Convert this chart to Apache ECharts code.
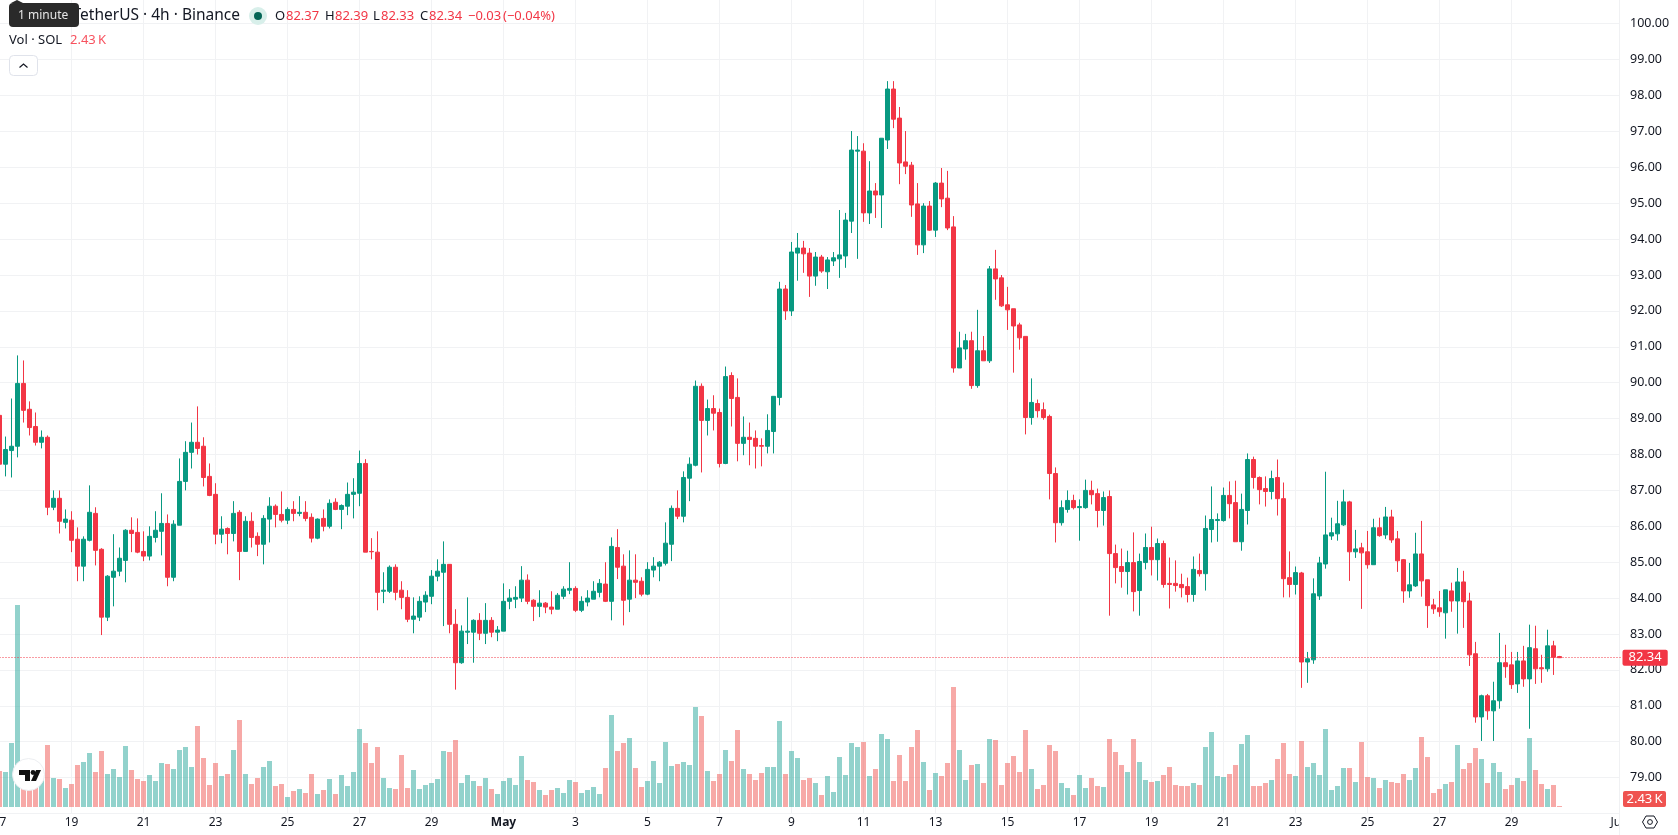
<!DOCTYPE html>
<html>
<head>
<meta charset="utf-8">
<title>SOL / TetherUS 4h</title>
<style>html,body{margin:0;padding:0;background:#fff;overflow:hidden}#chart{width:1678px;height:835px}</style>
<script src="https://cdn.jsdelivr.net/npm/echarts@6/dist/echarts.min.js"></script>
</head>
<body>
<div id="chart"></div>
<script>
// 4h candles, oldest first; the first one opens on 17 Apr.
const opens = [
89.09,87.73,88.11,88.23,89.98,89.26,88.78,88.34,88.48,86.53,
86.78,86.11,86.17,85.64,84.89,85.61,86.36,85.36,83.47,84.58,
84.75,85.05,85.89,85.83,85.30,85.17,85.69,85.86,86.08,84.58,
86.03,87.25,88.06,88.34,88.23,87.39,86.89,85.78,85.94,85.80,
86.39,85.30,86.14,85.72,85.50,86.20,86.56,86.33,86.17,86.47,
86.36,86.39,86.25,85.67,86.22,86.00,86.67,86.47,86.56,86.89,
86.92,87.75,85.30,85.28,84.19,84.19,84.86,84.22,84.02,83.41,
83.47,83.89,84.05,84.61,84.72,84.94,83.27,82.20,83.05,83.05,
83.38,83.02,83.38,83.05,83.08,83.91,83.97,84.00,84.50,83.94,
83.77,83.86,83.75,83.69,84.05,84.22,84.27,83.66,83.89,83.97,
84.16,84.39,83.91,85.41,84.89,83.97,84.50,84.47,84.11,84.78,
84.89,84.97,85.50,86.50,86.28,87.34,87.70,89.90,88.95,89.28,
89.17,87.75,90.20,89.59,88.31,88.48,88.45,88.25,88.23,88.64,
89.59,92.61,92.00,93.61,93.75,93.61,92.97,93.50,93.09,93.39,
93.45,93.53,94.50,96.45,96.45,94.73,95.34,95.23,96.76,98.18,
97.37,96.15,96.06,94.98,93.84,94.92,94.25,95.56,95.14,94.34,
90.41,90.94,91.17,89.92,90.89,90.61,93.17,92.92,92.17,92.06,
91.61,91.29,89.03,89.42,89.25,89.06,87.47,86.10,86.47,86.72,
86.52,86.52,87.00,86.91,86.44,86.83,85.24,84.88,84.74,84.99,
84.21,84.99,85.41,85.07,85.52,84.41,84.41,84.38,84.32,84.10,
84.77,84.68,85.91,86.16,86.16,86.86,86.66,85.57,86.44,87.86,
87.36,87.05,86.97,87.36,86.77,84.57,84.38,84.70,82.22,82.28,
84.06,84.95,85.73,85.79,86.04,86.68,85.29,85.40,85.29,84.93,
85.96,85.76,86.26,85.65,85.07,84.20,84.34,85.23,84.51,83.81,
83.73,83.59,84.20,83.92,84.45,83.92,82.45,80.69,81.28,80.86,
81.14,82.20,82.14,81.61,82.25,81.75,82.59,82.06,82.03,82.67,
82.37];
const closes = [
87.73,88.14,88.23,89.98,89.23,88.75,88.34,88.48,86.53,86.78,
86.14,86.20,85.61,84.89,85.64,86.39,85.33,83.47,84.61,84.75,
85.11,85.89,85.80,85.28,85.17,85.72,85.89,86.08,84.58,86.06,
87.25,88.06,88.34,88.17,87.36,86.86,85.78,85.92,85.80,86.36,
85.30,86.14,85.69,85.50,86.22,86.56,86.33,86.17,86.47,86.36,
86.39,86.22,85.67,86.20,86.00,86.64,86.47,86.58,86.89,86.95,
87.75,85.28,85.29,84.16,84.22,84.86,84.16,84.02,83.41,83.50,
83.91,84.08,84.61,84.75,84.94,83.27,82.20,83.08,83.08,83.38,
83.02,83.38,83.05,83.11,83.91,84.00,84.02,84.50,83.91,83.77,
83.86,83.75,83.69,84.08,84.25,84.27,83.66,83.91,84.00,84.19,
84.41,83.91,85.44,84.86,83.94,84.50,84.44,84.11,84.80,84.89,
85.00,85.53,86.50,86.28,87.36,87.73,89.90,88.95,89.28,89.15,
87.75,90.17,89.56,88.31,88.48,88.42,88.23,88.23,88.67,89.62,
92.61,92.00,93.64,93.75,93.59,92.97,93.50,93.11,93.42,93.48,
93.56,94.53,96.48,96.48,94.73,95.34,95.23,96.81,98.18,97.34,
96.12,96.03,94.95,93.84,94.92,94.25,95.56,95.12,94.31,90.41,
90.97,91.17,89.92,90.89,90.61,93.17,92.89,92.14,92.03,91.58,
91.25,89.03,89.45,89.22,89.03,87.47,86.10,86.52,86.72,86.52,
86.55,87.00,86.88,86.44,86.80,85.24,84.85,84.74,84.99,84.18,
85.02,85.41,85.07,85.52,84.38,84.38,84.35,84.29,84.10,84.80,
84.68,85.94,86.19,86.19,86.86,86.63,85.57,86.47,87.86,87.36,
87.02,86.97,87.33,86.77,84.54,84.38,84.71,82.22,82.31,84.12,
84.98,85.76,85.82,86.07,86.68,85.29,85.37,85.26,84.93,85.96,
85.74,86.26,85.62,85.04,84.20,84.37,85.23,84.48,83.79,83.70,
83.62,84.23,83.92,84.45,83.90,82.42,80.69,81.28,80.86,81.14,
82.20,82.09,81.59,82.25,81.75,82.62,82.03,82.03,82.67,82.35,
82.34];
const highs = [
89.30,88.50,89.56,90.76,90.62,89.48,89.17,88.67,88.53,87.00,
87.00,86.47,86.42,85.97,85.72,87.14,86.53,85.39,84.64,85.78,
85.41,85.92,86.25,86.22,85.86,86.00,86.42,86.92,86.33,86.17,
87.89,88.37,88.89,89.34,88.48,87.75,87.20,86.28,85.97,86.70,
86.45,86.28,86.39,85.83,86.31,86.81,86.61,86.97,86.53,86.70,
86.84,86.70,86.36,86.22,86.47,86.75,86.78,86.61,87.22,87.34,
88.11,87.87,85.67,85.86,84.72,84.91,84.94,84.47,84.22,84.02,
84.05,84.19,84.78,85.08,85.58,84.94,83.69,83.24,84.02,83.41,
83.58,83.86,83.47,83.22,84.41,84.25,84.33,84.89,84.66,83.97,
84.22,83.89,84.19,84.14,84.33,85.00,84.33,84.05,84.22,84.47,
84.53,85.00,85.69,85.92,85.22,85.33,85.22,84.58,85.00,85.14,
85.03,86.11,86.58,87.00,87.53,87.92,90.06,89.98,89.53,89.65,
89.28,90.45,90.29,90.12,89.06,88.89,88.67,88.45,89.12,89.62,
92.81,92.72,93.92,94.17,93.95,93.75,93.64,93.56,93.50,93.64,
94.81,94.73,97.01,96.87,96.67,96.17,95.56,96.81,98.40,98.40,
97.68,97.01,96.15,95.56,95.00,95.06,95.59,95.98,95.90,94.64,
91.42,91.36,91.42,92.03,91.30,93.25,93.70,93.00,92.67,92.06,
91.67,91.29,90.12,89.53,89.45,89.11,87.64,86.72,87.00,86.88,
86.75,87.30,87.27,87.05,86.97,87.00,85.49,85.38,85.32,85.83,
85.24,85.80,85.99,85.66,85.60,85.13,85.05,84.68,84.57,85.16,
85.24,86.30,87.11,86.36,87.08,87.25,87.27,86.91,88.03,87.94,
87.39,87.39,87.55,87.86,87.22,85.30,84.88,84.73,82.50,84.55,
85.15,87.52,86.24,86.71,87.02,86.71,85.90,85.54,85.87,86.21,
86.24,86.54,86.46,85.87,85.09,84.98,85.82,86.15,84.51,83.98,
84.20,84.23,84.43,84.84,84.76,84.15,82.78,81.31,81.33,81.67,
83.03,82.70,82.50,82.50,82.67,83.26,83.23,82.42,83.12,82.81,
82.39];
const lows = [
87.68,87.39,87.36,87.92,88.89,88.53,88.25,88.17,86.31,86.45,
85.80,85.94,85.28,84.47,84.47,85.58,84.91,82.97,83.36,83.77,
84.61,84.44,85.28,85.25,85.03,85.05,85.55,85.19,84.33,84.47,
86.03,87.00,87.61,88.00,87.11,86.84,85.50,85.53,85.22,85.58,
84.50,85.30,85.41,85.17,84.94,85.55,85.97,86.11,86.06,86.14,
86.28,86.14,85.55,85.64,85.86,85.94,86.45,85.92,86.31,86.22,
86.56,85.28,85.08,83.66,83.86,84.14,83.94,83.69,83.33,83.02,
83.36,83.61,83.83,84.47,83.22,83.02,81.45,82.17,82.72,82.20,
82.83,82.72,82.91,82.80,83.08,83.69,83.72,83.89,83.83,83.36,
83.47,83.58,83.55,83.69,83.97,84.11,83.61,83.61,83.77,83.97,
84.02,83.89,83.38,84.53,83.24,83.61,84.00,84.05,84.08,84.58,
84.47,84.91,85.03,86.20,86.11,86.70,87.67,87.50,88.53,88.67,
87.64,87.73,88.78,87.81,87.98,87.70,87.61,87.67,88.03,88.03,
89.37,91.75,91.86,92.84,93.06,92.39,92.70,93.06,92.61,93.25,
92.92,93.20,94.17,93.45,94.48,94.42,94.59,94.31,96.51,97.09,
95.53,95.81,94.62,93.56,93.61,94.23,94.06,94.89,94.25,90.28,
90.41,90.64,89.83,89.86,90.61,90.55,92.31,92.11,91.47,90.28,
90.92,88.56,88.83,89.03,88.97,86.75,85.55,86.02,86.38,86.47,
85.60,86.49,86.61,85.97,86.02,83.51,84.41,84.29,84.10,83.63,
83.51,84.80,84.63,84.49,84.29,83.71,84.18,84.02,83.88,83.90,
84.60,84.21,85.55,85.57,86.13,86.22,85.57,85.32,86.05,87.05,
86.61,86.55,86.75,86.30,84.02,84.02,84.10,81.50,81.64,82.17,
83.95,84.82,85.62,85.60,86.01,84.48,85.12,83.70,84.82,84.93,
85.71,85.65,85.54,84.73,83.87,84.01,84.31,84.04,83.17,83.56,
83.48,82.87,83.62,83.01,83.17,82.11,80.53,80.02,80.61,80.02,
80.92,81.78,81.47,81.36,81.53,80.36,81.61,81.64,81.95,81.86,
82.33];
// Volume per candle, in thousands of SOL.
const volumes = [
90,87.5,160,505,67.5,75,75,80,155,72.5,
70,47.5,57.5,105,112.5,135,87.5,140,82.5,95,
75,152.5,92.5,70,65,80,65,110,107.5,95,
142.5,150,100,202.5,122.5,55,110,77.5,82.5,142.5,
217.5,82.5,57.5,72.5,100,115,52.5,57.5,25,40,
45,35,82.5,32.5,42.5,70,32.5,80,52.5,87.5,
195,160,110,150,72.5,47.5,45,130,47.5,92.5,
45,55,60,70,140,137.5,167.5,60,80,65,
52.5,72.5,45,32.5,65,72.5,55,127.5,67.5,62.5,
42.5,30,42.5,47.5,35,67.5,62.5,35,42.5,50,
32.5,97.5,230,140,160,172.5,97.5,50,65,115,
60,162.5,102.5,107.5,112.5,105,250,227.5,90,65,
82.5,142.5,115,192.5,95,82.5,67.5,85,100,100,
215,82.5,140,122.5,67.5,72.5,60,30,77.5,37.5,
125,80,160,150,162.5,77.5,95,182.5,170,65,
130,65,150,192.5,112.5,42.5,85,77.5,110,300,
142.5,67.5,105,107.5,60,170,167.5,55,110,127.5,
87.5,192.5,95,45,55,155,140,60,47.5,30,
80,47.5,72.5,52.5,50,170,137.5,105,87.5,170,
112.5,67.5,62.5,65,80,100,55,52.5,52.5,60,
55,150,187.5,77.5,75,82.5,105,157.5,180,52.5,
52.5,60,67.5,120,160,82.5,77.5,165,100,110,
80,195,42.5,52.5,97.5,97.5,62.5,162.5,75,72.5,
47.5,67.5,62.5,60,82.5,67.5,97.5,175,125,35,
45,57.5,62.5,155,95,110,147.5,120,60,110,
87.5,45,55,72.5,65,172.5,92.5,57.5,45,55,
2.43];

// Date labels: one every 12 candles up to the 29th, then the month start.
const tickLabels = ['17','19','21','23','25','27','29','May','3','5','7','9','11','13','15','17','19','21','23','25','27','29'];
const monthStart = {label: 'Jun', index: 270};
const slotCount = 271;

const lastPrice = 82.34;
const lastVolume = '2.43\u202fK';
const quote = [
  {key: 'O', val: '82.37', kx: 275, vx: 286},
  {key: 'H', val: '82.39', kx: 325, vx: 335},
  {key: 'L', val: '82.33', kx: 373, vx: 381},
  {key: 'C', val: '82.34', kx: 420, vx: 429}
];
const change = '\u22120.03';
const changePct = '(\u22120.04%)';

const UP = '#089981', DOWN = '#F23645';
const VOL_UP = 'rgba(38,166,154,0.5)', VOL_DOWN = 'rgba(239,83,80,0.5)';
const TEXT = '#131722', GRID = '#f1f2f4', FONT = '"Noto Sans", sans-serif';

const categories = new Array(slotCount).fill('');
tickLabels.forEach((t, k) => { categories[k * 12] = t; });
categories[monthStart.index] = monthStart.label;
const isTick = (i, v) => v !== '';

const candles = opens.map((o, i) => [o, closes[i], lows[i], highs[i]]);
const volumeBars = volumes.map((v, i) => ({
  value: v,
  itemStyle: {color: closes[i] >= opens[i] ? VOL_UP : VOL_DOWN}
}));

function text(x, y, s, fill, size, extra) {
  return Object.assign({
    type: 'text', z: 10, x, y,
    style: {text: s, fill, font: (size || 13) + 'px ' + FONT, verticalAlign: 'middle'}
  }, extra || {});
}

const overlay = [
  // Price scale panel, hiding anything that runs past the plot edge.
  {type: 'rect', z: 1, shape: {x: 1620, y: 0, width: 58, height: 835}, style: {fill: '#fff'}},
  {type: 'line', z: 1, shape: {x1: 1619.5, y1: 0, x2: 1619.5, y2: 835}, style: {stroke: '#f0f1f3', lineWidth: 1}},
  // Volume tag
  {type: 'rect', z: 10, shape: {x: 1623, y: 791, width: 43, height: 16, r: 2}, style: {fill: '#ef5350'}},
  text(1644.5, 799.5, lastVolume, '#fff', 13, {style: {text: lastVolume, fill: '#fff', font: '13px ' + FONT, align: 'center', verticalAlign: 'middle'}}),
  // Symbol title, its start sits under the interval tooltip
  text(240, 16, '', TEXT, 15, {style: {text: 'Solana / TetherUS \u00b7 4h \u00b7 Binance', fill: TEXT, font: '15.5px ' + FONT, align: 'right', verticalAlign: 'middle'}}),
  {type: 'polygon', z: 11, shape: {points: [[11, 3], [17, 0], [23, 3]]}, style: {fill: '#2a2a2a'}},
  {type: 'rect', z: 11, shape: {x: 9, y: 3, width: 70, height: 24, r: 4}, style: {fill: '#2a2a2a'}},
  text(18, 15.5, '1 minute', '#e6e6e6', 12, {z: 12}),
  // Market status dot
  {type: 'circle', z: 10, shape: {cx: 258, cy: 16, r: 9}, style: {fill: '#d8efea'}},
  {type: 'circle', z: 10, shape: {cx: 258, cy: 16, r: 4}, style: {fill: '#056656'}},
  text(468, 16, change, DOWN, 13),
  text(503, 16, changePct, DOWN, 13),
  // Volume legend row
  text(9, 40.5, 'Vol \u00b7 SOL', TEXT, 13),
  text(70, 40.5, lastVolume, '#F7525F', 13),
  // Collapse button
  {type: 'rect', z: 10, shape: {x: 9.5, y: 55.5, width: 28, height: 20, r: 4}, style: {fill: '#fff', stroke: '#e0e3eb', lineWidth: 1}},
  {type: 'polyline', z: 10, shape: {points: [[19.5, 67.5], [23.5, 64], [27.5, 67.5]]}, style: {fill: 'none', stroke: TEXT, lineWidth: 1.2}},
  // TradingView badge
  {type: 'circle', z: 10, shape: {cx: 28.5, cy: 774.5, r: 16}, style: {fill: '#fff', stroke: '#eceef1', lineWidth: 1}},
  {type: 'polygon', z: 10, shape: {points: [[19, 770], [30, 770], [30, 781], [25, 781], [25, 775], [19, 775]]}, style: {fill: '#111'}},
  {type: 'circle', z: 10, shape: {cx: 33, cy: 772.5, r: 2.4}, style: {fill: '#111'}},
  {type: 'polygon', z: 10, shape: {points: [[36, 770], [41, 770], [36, 781], [31, 781]]}, style: {fill: '#111'}},
  // Scale settings icon
  {type: 'polygon', z: 10, shape: {points: [[1642.5, 822], [1646, 816], [1654, 816], [1657.5, 822], [1654, 828], [1646, 828]]}, style: {fill: 'none', stroke: TEXT, lineWidth: 1}},
  {type: 'circle', z: 10, shape: {cx: 1650, cy: 822, r: 2.4}, style: {fill: 'none', stroke: TEXT, lineWidth: 1}}
];
quote.forEach(q => {
  overlay.push(text(q.kx, 16, q.key, TEXT, 13));
  overlay.push(text(q.vx, 16, q.val, DOWN, 13));
});

const chart = echarts.init(document.getElementById('chart'), null, {renderer: 'canvas'});
chart.setOption({
  animation: false,
  backgroundColor: '#ffffff',
  textStyle: {fontFamily: FONT},
  grid: [
    {left: -3.5, width: 1626, top: -12.2, height: 825.7, outerBoundsMode: 'none'},
    {left: -3.5, width: 1626, top: 557, height: 250, outerBoundsMode: 'none'}
  ],
  xAxis: [
    {
      type: 'category', gridIndex: 0, data: categories, boundaryGap: true,
      axisLine: {show: false}, axisTick: {show: false},
      axisLabel: {
        interval: isTick, margin: 3, color: TEXT, fontSize: 12, fontFamily: FONT,
        formatter: v => (v === 'May' ? '{b|May}' : v),
        rich: {b: {fontWeight: 700, fontSize: 12, color: TEXT, fontFamily: FONT}}
      },
      splitLine: {show: true, interval: isTick, alignWithLabel: true, lineStyle: {color: GRID, width: 1}}
    },
    {
      type: 'category', gridIndex: 1, data: categories, boundaryGap: true,
      axisLine: {show: false}, axisTick: {show: false}, axisLabel: {show: false}, splitLine: {show: false}
    }
  ],
  yAxis: [
    {
      type: 'value', gridIndex: 0, position: 'right', min: 78, max: 101, interval: 1, z: 3,
      axisLine: {show: false}, axisTick: {show: false}, splitLine: {show: false},
      axisLabel: {
        margin: 7.5, color: TEXT, fontSize: 12.5, fontFamily: FONT, align: 'left', padding: [2, 0, 0, 0],
        formatter: v => (v < 79 || v > 100 ? '' : v.toFixed(2))
      }
    },
    {
      type: 'value', gridIndex: 0, position: 'left', min: 78, max: 101, interval: 1,
      axisLine: {show: false}, axisTick: {show: false}, axisLabel: {show: false},
      splitLine: {show: true, lineStyle: {color: GRID, width: 1}}
    },
    {
      type: 'value', gridIndex: 1, min: 0, max: 625, show: false,
      splitLine: {show: false}
    }
  ],
  series: [
    {
      name: 'Vol', type: 'bar', xAxisIndex: 1, yAxisIndex: 2, data: volumeBars,
      barWidth: 5, z: 1, silent: true
    },
    {
      name: 'SOL/USDT', type: 'candlestick', xAxisIndex: 0, yAxisIndex: 0, data: candles,
      barWidth: 4, z: 2, silent: true,
      itemStyle: {color: UP, color0: DOWN, borderColor: UP, borderColor0: DOWN, borderColorDoji: DOWN, borderWidth: 1},
      markLine: {
        silent: true, symbol: 'none', animation: false, precision: 2,
        lineStyle: {color: DOWN, width: 1, type: [1, 2]},
        label: {
          position: 'end', distance: 0, formatter: lastPrice.toFixed(2), color: '#fff', fontSize: 13, fontFamily: FONT,
          backgroundColor: DOWN, padding: [2, 6, 1, 6], borderRadius: 2
        },
        data: [{yAxis: lastPrice}]
      }
    }
  ],
  graphic: {elements: overlay}
});
</script>
</body>
</html>
